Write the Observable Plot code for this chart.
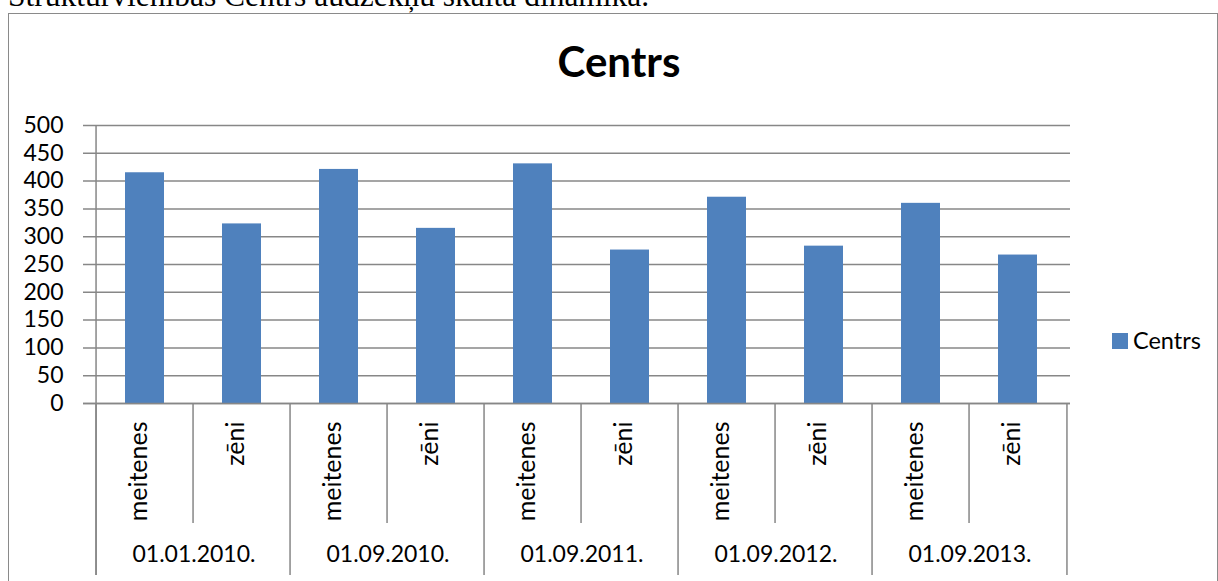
<!DOCTYPE html>
<html><head><meta charset="utf-8">
<script src="https://cdn.jsdelivr.net/npm/d3@7"></script>
<script src="https://cdn.jsdelivr.net/npm/@observablehq/plot@0.6"></script>
<style>
html,body{margin:0;padding:0;width:1218px;height:581px;overflow:hidden;background:#fff;position:relative;font-family:Lato,sans-serif;}
#doc{position:absolute;left:8px;top:-20px;font-family:"Liberation Serif","Times New Roman",serif;font-size:31.5px;line-height:32px;white-space:nowrap;color:#000;}
#frame{position:absolute;left:8px;top:13px;width:1210px;height:600px;border:1.5px solid #8a8a8a;box-sizing:border-box;}
#chart{position:absolute;left:0;top:0;}
#title{position:absolute;left:0;width:1238px;top:40px;text-align:center;font-family:Lato,sans-serif;font-weight:bold;font-size:42px;line-height:42px;color:#000;}
#legend{position:absolute;left:1112px;top:329px;font-family:Lato,sans-serif;font-size:23.5px;line-height:23px;color:#000;white-space:nowrap;}
#legend .sw{position:absolute;left:0;top:4px;width:16px;height:16px;background:#4F81BD;}
#legend .lb{position:absolute;left:21px;top:0;}
</style></head><body>
<div id="doc">Struktūrvienības Centrs audzēkņu skaita dinamika.</div>
<div id="frame"></div>
<div id="chart"></div>
<div id="title"></div>
<div id="legend"><span class="sw"></span><span class="lb"></span></div>
<script>
const chartTitle = "Centrs";
const seriesName = "Centrs";
const groups = ["01.01.2010.", "01.09.2010.", "01.09.2011.", "01.09.2012.", "01.09.2013."];
const genders = ["meitenes", "zēni"];
const meitenes = [415, 421, 431, 371, 360];
const zeni = [323, 315, 276, 283, 267];
const yTicks = [0, 50, 100, 150, 200, 250, 300, 350, 400, 450, 500];

document.getElementById("title").textContent = chartTitle;
document.querySelector("#legend .lb").textContent = seriesName;

const rows = groups.flatMap((g, i) => [
  {group: g, gender: genders[0], key: g + "|" + genders[0], value: meitenes[i]},
  {group: g, gender: genders[1], key: g + "|" + genders[1], value: zeni[i]}
]);
const keys = rows.map(d => d.key);
const firstKeys = groups.map(g => g + "|" + genders[0]);
const secondKeys = groups.map(g => g + "|" + genders[1]);

const W = 1218, H = 581, mL = 91, mR = 148, mT = 125, mB = 178;
const step = (W - mL - mR) / keys.length;
const lineColor = "#878787";

const chart = Plot.plot({
  width: W, height: H,
  marginLeft: mL, marginRight: mR, marginTop: mT, marginBottom: mB,
  style: {fontFamily: "Lato, sans-serif", fontSize: "23px", color: "#000", background: "transparent", overflow: "visible"},
  x: {type: "band", domain: keys, paddingInner: 0.6, paddingOuter: 0.3, axis: null},
  y: {domain: [0, 500], axis: null},
  marks: [
    Plot.ruleY(yTicks, {y: d => d, stroke: lineColor, strokeWidth: 1.5, insetLeft: -8}),
    Plot.text(yTicks, {y: d => d, text: d => String(d), frameAnchor: "left", textAnchor: "end", dx: -28, fontSize: 23, fill: "#000"}),
    Plot.barY(rows, {x: "key", y: "value", fill: "#4F81BD"}),
    Plot.ruleX([keys[0]], {x: d => d, dx: -step / 2, y1: 500, y2: 0, insetBottom: -172, stroke: lineColor, strokeWidth: 1.5}),
    Plot.ruleX(firstKeys, {x: d => d, dx: -step / 2, y1: 0, y2: 0, insetBottom: -172, stroke: lineColor, strokeWidth: 1.5}),
    Plot.ruleX([keys[keys.length - 1]], {x: d => d, dx: step / 2, y1: 0, y2: 0, insetBottom: -172, stroke: lineColor, strokeWidth: 1.5}),
    Plot.ruleX(secondKeys, {x: d => d, dx: -step / 2, y1: 0, y2: 0, insetBottom: -120, stroke: lineColor, strokeWidth: 1.5}),
    Plot.ruleY([0], {y: d => d, stroke: lineColor, strokeWidth: 1.5, insetLeft: -8}),
    Plot.text(rows, {x: "key", text: "gender", frameAnchor: "bottom", rotate: -90, textAnchor: "end", dy: 18, dx: 2, fontSize: 25, fill: "#000"}),
    Plot.text(rows.filter(d => d.gender === genders[0]), {x: "key", text: "group", frameAnchor: "bottom", dx: step / 2, dy: 158, fontSize: 23, fill: "#000"})
  ]
});
document.getElementById("chart").appendChild(chart);
</script>
</body></html>
